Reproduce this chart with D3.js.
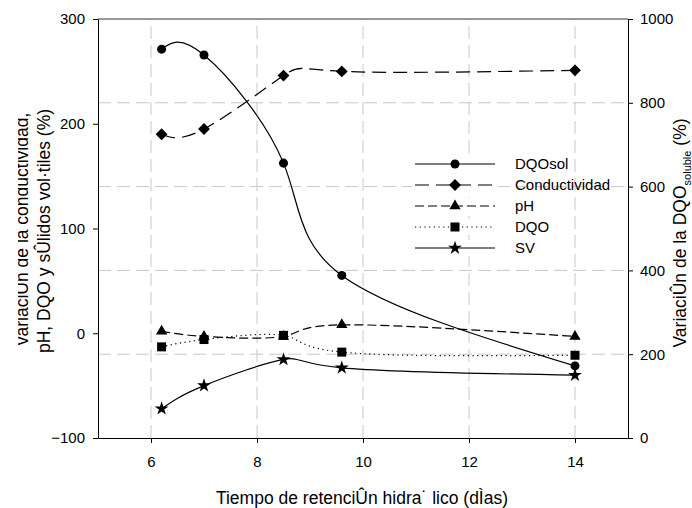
<!DOCTYPE html>
<html><head><meta charset="utf-8">
<script src="https://cdn.jsdelivr.net/npm/d3@7"></script>
<style>body{margin:0;background:#fff}svg{display:block}text{font-family:"Liberation Sans",Arial,sans-serif;fill:#000}</style>
</head><body><svg id="c" width="692" height="508"></svg>
<script>
const days = [6.2, 7, 8.5, 9.6, 14];
const dqoSol = [928, 914, 656, 388, 172];      // right axis
const conductividad = [190, 195, 246, 250, 251];
const pH = [2, -3, -3, 8, -3];
const dqo = [-13, -6, -2, -18, -21];
const sv = [-72, -50, -25, -33, -40];
const xTicks = [6, 8, 10, 12, 14];
const yLeftTicks = [-100, 0, 100, 200, 300];
const yRightTicks = [0, 200, 400, 600, 800, 1000];
const gridRight = [200, 400, 600, 800];
const legendLabels = ["DQOsol", "Conductividad", "pH", "DQO", "SV"];

const svg = d3.select("#c");
const L = 98, R = 628, T = 19, B = 438;
const x = d3.scaleLinear().domain([5, 15]).range([L, R]);
const yL = d3.scaleLinear().domain([-100, 300]).range([B, T]);
const yR = d3.scaleLinear().domain([0, 1000]).range([B, T]);

// grid
const g = svg.append("g").attr("stroke", "#c8c8c8").attr("stroke-width", 1).attr("stroke-dasharray", "13,6");
xTicks.forEach(t => g.append("line").attr("x1", x(t)).attr("x2", x(t)).attr("y1", B).attr("y2", T));
gridRight.forEach(t => g.append("line").attr("x1", L).attr("x2", R).attr("y1", yR(t)).attr("y2", yR(t)));

// axes
const fs = "15px";
const ax = svg.append("g").attr("transform", `translate(0,${B})`)
  .call(d3.axisBottom(x).tickValues(xTicks).tickSize(5).tickSizeOuter(0).tickPadding(13));
const ay = svg.append("g").attr("transform", `translate(${L},0)`)
  .call(d3.axisLeft(yL).tickValues(yLeftTicks).tickSize(5).tickSizeOuter(0).tickPadding(8));
const ar = svg.append("g").attr("transform", `translate(${R},0)`)
  .call(d3.axisRight(yR).tickValues(yRightTicks).tickFormat(d3.format("d")).tickSize(5).tickSizeOuter(0).tickPadding(7));
[ax, ay, ar].forEach(a => { a.selectAll("text").style("font-size", fs); a.attr("font-family", null).attr("font-size", null); });
svg.append("line").attr("x1", L).attr("x2", R).attr("y1", T).attr("y2", T).attr("stroke", "#333");

// series
const series = [
  {vals: dqoSol, y: yR, dash: null, sym: d3.symbolCircle, size: 64, rot: 0},
  {vals: conductividad, y: yL, dash: "14,7", sym: d3.symbolSquare, size: 70, rot: 45},
  {vals: pH, y: yL, dash: "9,4", sym: d3.symbolTriangle, size: 55, rot: 0},
  {vals: dqo, y: yL, dash: "1.2,3.5", sym: d3.symbolSquare, size: 81, rot: 0},
  {vals: sv, y: yL, dash: null, sym: d3.symbolStar, size: 60, rot: 0},
];
series.forEach(s => {
  const line = d3.line().x((d, i) => x(days[i])).y(d => s.y(d)).curve(d3.curveNatural);
  svg.append("path").attr("d", line(s.vals)).attr("fill", "none").attr("stroke", "#000")
    .attr("stroke-width", 1.2).attr("stroke-dasharray", s.dash);
  s.vals.forEach((v, i) => svg.append("path").attr("d", d3.symbol(s.sym, s.size)())
    .attr("transform", `translate(${x(days[i])},${s.y(v)}) rotate(${s.rot})`).attr("fill", "#000"));
});

// legend
const lg = svg.append("g");
series.forEach((s, i) => {
  const yy = 164 + i * 21;
  lg.append("rect").attr("x", 412).attr("y", yy - 8).attr("width", 86).attr("height", 16).attr("fill", "#fff");
  lg.append("line").attr("x1", 415).attr("x2", 495).attr("y1", yy).attr("y2", yy)
    .attr("stroke", "#000").attr("stroke-width", 1.2).attr("stroke-dasharray", s.dash);
  lg.append("path").attr("d", d3.symbol(s.sym, s.size)()).attr("transform", `translate(455,${yy}) rotate(${s.rot})`);
  lg.append("text").attr("x", 515).attr("y", yy + 5).style("font-size", "15px").text(legendLabels[i]);
});

// titles
const tf = "17.5px";
svg.append("text").attr("x", 362).attr("y", 504).attr("text-anchor", "middle").style("font-size", tf)
  .text("Tiempo de retenciÛn hidra˙ lico (dÌas)");
svg.append("defs").append("clipPath").attr("id", "lc").append("rect").attr("x", 18).attr("y", 0).attr("width", 80).attr("height", 508);
const lt = svg.append("g").attr("clip-path", "url(#lc)");
lt.append("text").attr("transform", "translate(28,229) rotate(-90)").attr("text-anchor", "middle").style("font-size", tf)
  .text("variaciÛn de la conductividad,");
lt.append("text").attr("transform", "translate(50,231) rotate(-90)").attr("text-anchor", "middle").style("font-size", tf)
  .text("pH, DQO y sÛlidos vol·tiles (%)");
const rt = svg.append("text").attr("transform", "translate(686,233) rotate(-90)").attr("text-anchor", "middle").style("font-size", tf);
rt.append("tspan").text("VariaciÛn de la DQO");
rt.append("tspan").attr("dy", 5).style("font-size", "11px").text("soluble");
rt.append("tspan").attr("dy", -5).text(" (%)");
</script></body></html>
